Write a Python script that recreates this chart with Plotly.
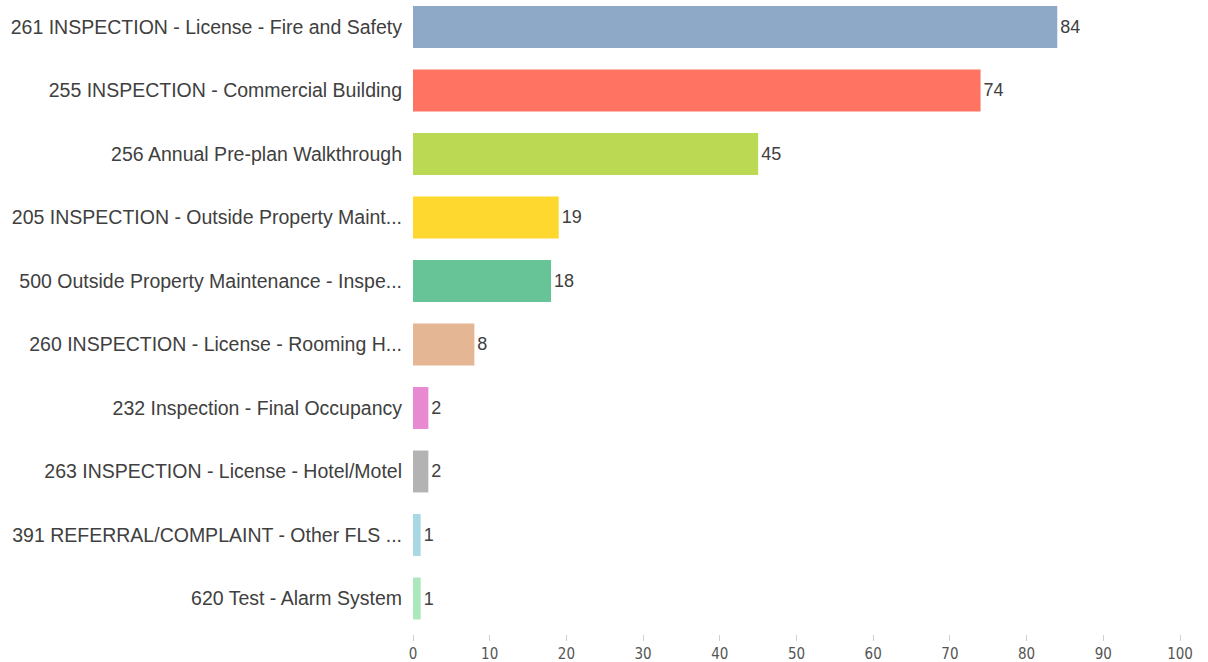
import plotly.graph_objects as go

categories = [
    "261 INSPECTION - License - Fire and Safety",
    "255 INSPECTION - Commercial Building",
    "256 Annual Pre-plan Walkthrough",
    "205 INSPECTION - Outside Property Maint...",
    "500 Outside Property Maintenance - Inspe...",
    "260 INSPECTION - License - Rooming H...",
    "232 Inspection - Final Occupancy",
    "263 INSPECTION - License - Hotel/Motel",
    "391 REFERRAL/COMPLAINT - Other FLS ...",
    "620 Test - Alarm System",
]
values = [84, 74, 45, 19, 18, 8, 2, 2, 1, 1]
colors = ["#8EA9C8", "#FF7362", "#BCD954", "#FFD82F", "#66C497",
          "#E4B694", "#E78AD2", "#B3B3B3", "#A7D8E4", "#ABE8BB"]
tick_vals = [0, 10, 20, 30, 40, 50, 60, 70, 80, 90, 100]

fig = go.Figure(go.Bar(
    x=values, y=categories, orientation="h",
    marker=dict(color=colors, line=dict(width=0)),
    text=[str(v) for v in values], textposition="outside",
    textfont=dict(family="Liberation Sans, Arial", size=18, color="#404040"),
    cliponaxis=False, width=0.66,
))

fig.update_layout(
    width=1208, height=662,
    margin=dict(l=413, r=28, t=0, b=28),
    paper_bgcolor="white", plot_bgcolor="white",
    showlegend=False,
    xaxis=dict(range=[0, 100], tickvals=tick_vals, showgrid=False, zeroline=False,
               showline=False, ticks="outside", ticklen=6, tickcolor="#d0d0d0",
               automargin=False,
               tickfont=dict(family="Liberation Sans Narrow, DejaVu Sans Condensed, Arial", size=15, color="#555555")),
    yaxis=dict(categoryorder="array", categoryarray=categories,
               range=[9.559, -0.425], showgrid=False, zeroline=False, showline=False,
               ticks="", ticklabelstandoff=10, automargin=False,
               tickfont=dict(family="Liberation Sans, Arial", size=19.5, color="#404040")),
)

fig.write_html("out.html", config={"displayModeBar": False},
               post_script="document.body.style.margin='0';document.body.style.overflow='hidden';")
